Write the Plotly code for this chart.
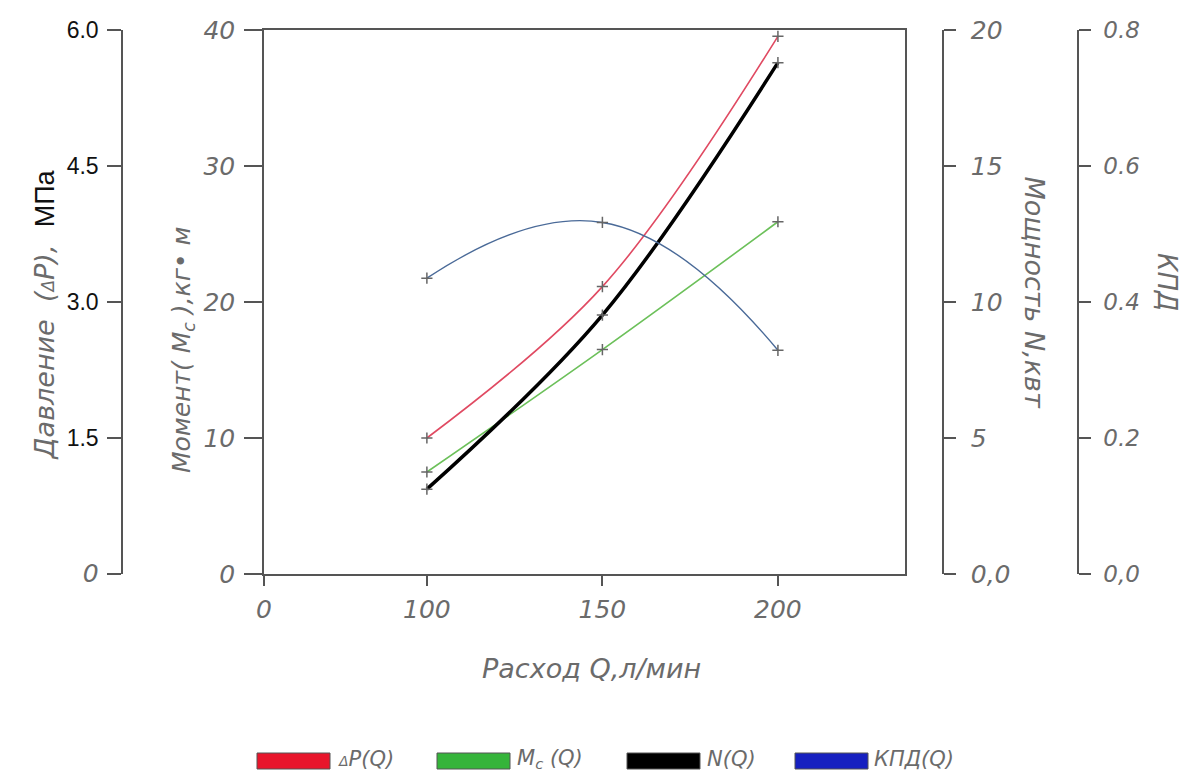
import plotly.graph_objects as go

# ---------------- data ----------------
Q = [100, 150, 200]                       # Расход Q, л/мин
dP = [1.50, 3.17, 5.93]                   # Давление ΔP, МПа
Mc = [7.5, 16.5, 25.9]                    # Момент Mc, кг·м
N = [3.12, 9.52, 18.8]                    # Мощность N, кВт
KPD = [0.435, 0.517, 0.329]               # КПД

x_tick_vals = [53.6, 100, 150, 200]
x_tick_text = ["0", "100", "150", "200"]
m_ticks = [0, 10, 20, 30, 40]
p_ticks = [0, 1.5, 3.0, 4.5, 6.0]
p_text = ["<i><span style='color:#6b6b6b;font-family:DejaVu Sans;font-size:25px'>0</span></i>", "1.5", "3.0", "4.5", "6.0"]
n_ticks = [0, 5, 10, 15, 20]
n_text = ["0,0", "5", "10", "15", "20"]
k_ticks = [0, 0.2, 0.4, 0.6, 0.8]
k_text = ["0,0", "0.2", "0.4", "0.6", "0.8"]

legend_names = ["<span style='font-size:14px'>Δ</span>P(Q)", "M<sub>c</sub> (Q)", "N(Q)", "КПД(Q)"]
legend_colors = ["#e8152b", "#35b43a", "#000000", "#1620c0"]

W, H = 1200, 776
GRAY = "#6b6b6b"
AX = "#555555"
IT = dict(family="DejaVu Sans", size=25, color=GRAY, style="italic", weight=300)

def px(x):
    return x / W

def py(y):
    return (H - y) / H

fig = go.Figure()
mk = dict(symbol="cross-thin", size=8, line=dict(width=1.5, color="#666666"))
fig.add_trace(go.Scatter(x=Q, y=dP, yaxis="y2", mode="lines+markers", line=dict(color="#e04a62", width=1.6, shape="spline"), marker=mk, showlegend=False))
fig.add_trace(go.Scatter(x=Q, y=Mc, yaxis="y", mode="lines+markers", line=dict(color="#6cc05a", width=1.6, shape="spline"), marker=mk, showlegend=False))
fig.add_trace(go.Scatter(x=Q, y=N, yaxis="y3", mode="lines+markers", line=dict(color="#000000", width=3.5, shape="spline"), marker=mk, showlegend=False))
fig.add_trace(go.Scatter(x=Q, y=KPD, yaxis="y4", mode="lines+markers", line=dict(color="#4a6a98", width=1.4, shape="spline", smoothing=1.3), marker=mk, showlegend=False))

x0, x1 = px(264), px(905)
y0, y1 = py(574), py(30)

common = dict(showgrid=False, zeroline=False, showline=True, linecolor=AX, linewidth=1.5,
              ticks="outside", tickcolor=AX, tickwidth=1.5, automargin=False)

fig.update_layout(
    width=W, height=H, margin=dict(l=0, r=0, t=0, b=0, autoexpand=False),
    paper_bgcolor="white", plot_bgcolor="white",
    xaxis=dict(domain=[x0, x1], range=[53.6, 236.2], tickvals=x_tick_vals, ticktext=x_tick_text,
               mirror=True, ticklen=10, tickfont=IT, ticklabelstandoff=2, **common),
    yaxis=dict(domain=[y0, y1], range=[0, 40], tickvals=m_ticks, mirror=True,
               ticklen=18, tickfont=IT, ticklabelstandoff=4, **common),
    yaxis2=dict(overlaying="y", anchor="free", position=px(122), side="left", range=[0, 6],
                tickvals=p_ticks, ticktext=p_text, ticklen=14,
                tickfont=dict(family="Liberation Sans", size=23, color="#111111"), ticklabelstandoff=4, **common),
    yaxis3=dict(overlaying="y", anchor="free", position=px(943), side="right", range=[0, 20],
                tickvals=n_ticks, ticktext=n_text, ticklen=12,
                tickfont=IT, ticklabelstandoff=10, **common),
    yaxis4=dict(overlaying="y", anchor="free", position=px(1078), side="right", range=[0, 0.8],
                tickvals=k_ticks, ticktext=k_text, ticklen=12,
                tickfont=dict(family="DejaVu Sans", size=23, color=GRAY, style="italic", weight=300),
                ticklabelstandoff=8, **common),
)

TF = dict(family="DejaVu Sans", color=GRAY, style="italic", weight=300)
ann = []
ann.append(dict(x=px(26), y=py(315), xref="paper", yref="paper", textangle=-90, showarrow=False,
                text="Давление  (<span style='font-size:17px'>Δ</span>P),  <span style='font-style:normal;font-family:Liberation Sans;color:#111111'>МПа</span>",
                font=dict(size=27, **TF)))
ann.append(dict(x=px(165), y=py(350), xref="paper", yref="paper", textangle=-90, showarrow=False,
                text="Момент( M<sub>c</sub> ),кг• м",
                font=dict(size=25, **TF)))
ann.append(dict(x=px(1052), y=py(292), xref="paper", yref="paper", textangle=90, showarrow=False,
                text="Мощность N,квт",
                font=dict(size=27, **TF)))
ann.append(dict(x=px(1184), y=py(282), xref="paper", yref="paper", textangle=90, showarrow=False,
                text="КПД",
                font=dict(size=26, **TF)))
ann.append(dict(x=px(591), y=py(686), xref="paper", yref="paper", showarrow=False,
                text="Расход Q,л/мин",
                font=dict(size=27, **TF)))

# legend (swatches + labels)
sw_x = [257, 437, 627, 795]
tx_x = [336, 515, 705, 872]
shapes = []
for i in range(4):
    shapes.append(dict(type="rect", xref="paper", yref="paper",
                       x0=px(sw_x[i]), x1=px(sw_x[i] + 73), y0=py(769), y1=py(753),
                       fillcolor=legend_colors[i], line=dict(width=1, color="#555555")))
    ann.append(dict(x=px(tx_x[i]), y=py(759), xref="paper", yref="paper", xanchor="left", yanchor="middle",
                    showarrow=False, text=legend_names[i],
                    font=dict(size=21, **TF)))

fig.update_layout(annotations=ann, shapes=shapes)
fig.write_html("out.html")
